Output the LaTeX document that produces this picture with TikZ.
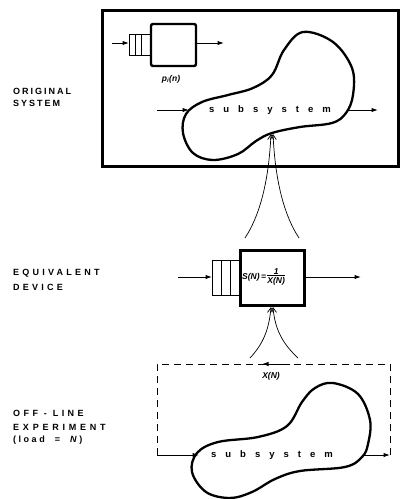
\documentclass[tikz,border=0pt]{standalone}
\usepackage{fontspec}
\setmainfont{Liberation Sans}
\usetikzlibrary{arrows.meta}
\tikzset{
  thickbox/.style={draw, line width=2.6pt, inner sep=0pt},
  blob/.style={line width=2.3pt, line join=round},
  arr/.style={line width=1pt, -{Latex[length=6.5pt,width=4.5pt]}},
  carr/.style={line width=0.7pt, -{Straight Barb[length=5pt,width=6pt]}},
  qline/.style={line width=0.8pt},
  dsh/.style={line width=0.9pt, dash pattern=on 7pt off 5pt},
  lab/.style={anchor=west, inner sep=0pt, font=\fontsize{9}{12}\selectfont\bfseries\addfontfeature{LetterSpace=#1}},
  sub/.style={font=\fontsize{9.5}{10}\selectfont\bfseries\addfontfeature{LetterSpace=95}, inner sep=0pt},
  math/.style={font=\fontsize{8.5}{9}\selectfont\bfseries\itshape, inner sep=0pt},
}
\begin{document}
\begin{tikzpicture}[x=1pt,y=-1pt]
\useasboundingbox (0,0) rectangle (401,499);

% ---------- left labels ----------
\node[lab=22] (l1a) at (13,91) {ORIGINAL};
\node[lab=22] (l1b) at (13,103) {SYSTEM};
\node[lab=36] (l2a) at (13,273) {EQUIVALENT};
\node[lab=36] (l2b) at (13,287) {DEVICE};
\node[lab=38] (l3a) at (13,413) {OFF - LINE};
\node[lab=42] (l3b) at (13,427) {EXPERIMENT};
\node[lab=28] (l3c) at (13,440) {(load \ = \ \textit{N})};

% ---------- original system ----------
\node[thickbox, line width=2.8pt, minimum width=296pt, minimum height=156pt] (orig) at (250.5,88.5) {};
\node[thickbox, line width=2.4pt, rounded corners=2pt, minimum width=45pt, minimum height=42pt] (pbox) at (173.5,45) {};
\node[math] (plab) at (171,79) {p\textsubscript{i}(n)};
% queue of small box
\coordinate (q1t) at (129,34);
\coordinate (q1b) at (129,55);
\draw[qline] (q1t) -- (q1t -| pbox.west);
\draw[qline] (q1b) -- (q1b -| pbox.west);
\draw[qline] (q1t) -- (q1b);
\draw[qline] (135,34) -- (135,55);
\draw[qline] (141,34) -- (141,55);
\coordinate (pin0) at (112,43);
\coordinate (pin1) at (129,43);
\draw[arr] (pin0) -- (pin1);
\coordinate (pout) at (224,43);
\draw[arr] (pbox.east |- pout) -- (pout);

% subsystem blob (top)
\draw[blob] plot[smooth cycle, tension=0.6] coordinates {
 (303,32) (333,42) (352,68) (353,95) (346,113) (332,123) (300,127) (272,133)
 (256,141) (238,154) (213,160) (193,153) (183,133) (186,114) (202,102)
 (228,95) (253,88) (272,75) (284,50)};
\node[sub] (s1) at (270,110) {subsystem};
\coordinate (b1in0) at (157,110);
\coordinate (b1in) at (189,110);
\coordinate (b1out) at (347,110);
\coordinate (b1out1) at (378,110);
\coordinate (b1n) at (272,134);
\draw[arr] (b1in0) -- (b1in);
\draw[arr] (b1out) -- (b1out1);

% ---------- curved arrows up to subsystem ----------
\coordinate (c1l) at (245,238);
\coordinate (c1r) at (299,238);
\draw[carr] (c1l) .. controls (262,212) and (269,175) .. ([xshift=-1pt]b1n);
\draw[carr] (c1r) .. controls (282,212) and (275,175) .. ([xshift=1pt]b1n);

% ---------- equivalent device ----------
\node[thickbox, line width=2.4pt, minimum width=64pt, minimum height=55pt] (eq) at (272.5,278) {};
\node[math, anchor=west] (eqt) at (242,277) {S(N)\,=\,\begin{tabular}{@{}c@{}}1\\[-2.5pt]\hline\rule{0pt}{8pt}X(N)\end{tabular}};
\coordinate (q2t) at (212,260);
\coordinate (q2b) at (212,295);
\draw[qline] (q2t) -- (q2t -| eq.west);
\draw[qline] (q2b) -- (q2b -| eq.west);
\draw[qline] (q2t) -- (q2b);
\draw[qline] (221,260) -- (221,295);
\draw[qline] (230,260) -- (230,295);
\coordinate (ein0) at (178,277);
\coordinate (ein1) at (212,277);
\draw[arr] (ein0) -- (ein1);
\coordinate (eout) at (361,277);
\draw[arr] (eq.east |- eout) -- (eout);

\coordinate (c2l) at (250,358);
\coordinate (c2r) at (298,358);
\coordinate (eqb) at (272,307);
\draw[carr] (c2l) .. controls (263,344) and (269,330) .. ([xshift=-1pt]eqb);
\draw[carr] (c2r) .. controls (283,344) and (275,330) .. ([xshift=1pt]eqb);

% ---------- off-line experiment ----------
\coordinate (dtl) at (157,364);
\coordinate (dtr) at (390,364);
\coordinate (dbl) at (157,455);
\coordinate (dbr) at (390,455);
\draw[dsh] (dbr) -- (dtr) -- (dtl) -- (dbl);
\coordinate (dta) at (290,364);
\coordinate (dtb) at (262,364);
\draw[arr] (dta) -- (dtb);
\node[math] (xn) at (271,376) {X(N)};

\draw[blob] plot[smooth cycle, tension=0.6] coordinates {
 (333,383) (358,394) (370,420) (368,444) (362,457) (345,467) (300,471)
 (275,479) (252,492) (230,498) (206,492) (192,472) (197,453) (218,442)
 (258,437) (287,426) (302,402) (315,388)};
\node[sub] (s2) at (272,455) {subsystem};
\coordinate (b2in) at (199,455);
\coordinate (b2out) at (364,455);
\draw[arr] (dbl) -- (b2in);
\draw[arr] (b2out) -- (dbr);
\end{tikzpicture}
\end{document}
